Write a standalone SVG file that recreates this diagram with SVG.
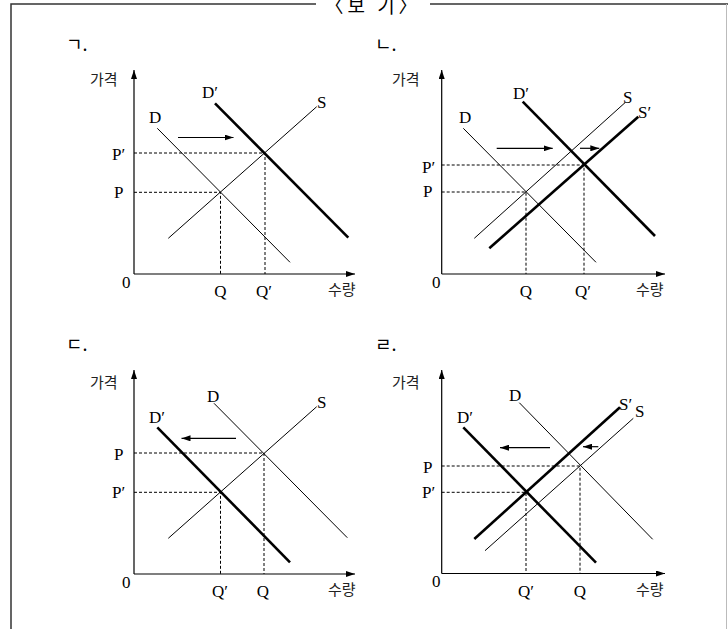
<svg xmlns="http://www.w3.org/2000/svg" width="728" height="629" viewBox="0 0 728 629">
<style>
.bg{fill:#fff}
.frame{fill:none;stroke:#333;stroke-width:1.5}
.ax{fill:none;stroke:#000;stroke-width:1.2}
.thin{fill:none;stroke:#000;stroke-width:1}
.thick{fill:none;stroke:#000;stroke-width:2.6}
.dash{fill:none;stroke:#000;stroke-width:1;stroke-dasharray:3,2}
.sh{fill:none;stroke:#000;stroke-width:1.2}
.l{font-family:"Liberation Serif","Times New Roman",serif;font-size:17px;fill:#000}
.k{font-family:"Noto Sans CJK KR","Noto Sans",sans-serif;font-size:15px;fill:#222}
.h{font-family:"Noto Sans CJK KR","Noto Sans",sans-serif;font-size:18px;fill:#000}
.m{text-anchor:middle}
</style>
<defs>
<marker id="ah" viewBox="0 0 9 6" refX="9" refY="3" markerWidth="9" markerHeight="6" markerUnits="userSpaceOnUse" orient="auto">
<path d="M0,0 L9,3 L0,6 z" fill="#000"/>
</marker>
</defs>
<rect class="bg" x="0" y="0" width="728" height="629"/>
<g id="frame">
<path class="frame" d="M11,629 V4 H316 M430,4 H728"/>
<line x1="726.5" y1="4" x2="726.5" y2="629" stroke="#bbb" stroke-width="1"/>
<text class="h m" x="373" y="13" style="font-size:19px;letter-spacing:4px">〈보 기〉</text>
</g>

<g id="panel-a">
<text class="h" x="66" y="51">ㄱ.</text>
<g id="axes-a">
<line class="ax" x1="134" y1="274" x2="134" y2="70" marker-end="url(#ah)"/>
<line class="ax" x1="134" y1="274" x2="355" y2="274" marker-end="url(#ah)"/>
<text class="k" x="90" y="85">가격</text>
<text class="k" x="328" y="295">수량</text>
<text class="l" x="122" y="288">0</text>
</g>
<g id="connectors-a">
<line class="thin" x1="157.3" y1="128.3" x2="290" y2="262.3"/>
<line class="thick" x1="215" y1="103.3" x2="348.3" y2="237.7"/>
<line class="thin" x1="168.3" y1="238.3" x2="316.7" y2="106.7"/>
<path class="dash" d="M134,153 H265 V274 M134,192.3 H220.5 V274"/>
<line class="sh" x1="178" y1="137.5" x2="233.5" y2="137.5" marker-end="url(#ah)"/>
</g>
<g id="labels-a">
<text class="l" x="202" y="98">D′</text>
<text class="l" x="149" y="123">D</text>
<text class="l" x="317" y="108">S</text>
<text class="l" x="112" y="160">P′</text>
<text class="l" x="114" y="198">P</text>
<text class="l m" x="220.5" y="297">Q</text>
<text class="l" x="256" y="297">Q′</text>
</g>
</g>

<g id="panel-b">
<text class="h" x="375" y="51">ㄴ.</text>
<g id="axes-b">
<line class="ax" x1="441.7" y1="274" x2="441.7" y2="70" marker-end="url(#ah)"/>
<line class="ax" x1="441.7" y1="274" x2="665" y2="274" marker-end="url(#ah)"/>
<text class="k" x="392" y="85">가격</text>
<text class="k" x="636" y="295">수량</text>
<text class="l" x="432" y="288">0</text>
</g>
<g id="connectors-b">
<line class="thin" x1="463.3" y1="128.3" x2="596" y2="262.3"/>
<line class="thick" x1="522.7" y1="101.7" x2="655" y2="236"/>
<line class="thin" x1="474.3" y1="238.3" x2="625" y2="102.7"/>
<line class="thick" x1="489.3" y1="248.3" x2="638.3" y2="116.7"/>
<path class="dash" d="M441.7,165 H584 V274 M441.7,192 H526 V274"/>
<line class="sh" x1="496.7" y1="148.3" x2="552.7" y2="148.3" marker-end="url(#ah)"/>
<line class="sh" x1="580" y1="148.3" x2="599.3" y2="148.3" marker-end="url(#ah)"/>
</g>
<g id="labels-b">
<text class="l" x="513" y="99">D′</text>
<text class="l" x="459" y="123">D</text>
<text class="l" x="623" y="103">S</text>
<text class="l" x="638" y="118">S′</text>
<text class="l" x="422" y="173">P′</text>
<text class="l" x="423" y="197">P</text>
<text class="l m" x="526" y="297">Q</text>
<text class="l" x="575" y="297">Q′</text>
</g>
</g>

<g id="panel-c">
<text class="h" x="66" y="351">ㄷ.</text>
<g id="axes-c">
<line class="ax" x1="134" y1="574" x2="134" y2="370" marker-end="url(#ah)"/>
<line class="ax" x1="134" y1="574" x2="355" y2="574" marker-end="url(#ah)"/>
<text class="k" x="90" y="388">가격</text>
<text class="k" x="328" y="595">수량</text>
<text class="l" x="122" y="588">0</text>
</g>
<g id="connectors-c">
<line class="thin" x1="214" y1="403.3" x2="347.3" y2="537.7"/>
<line class="thick" x1="157.3" y1="427.3" x2="290" y2="562.3"/>
<line class="thin" x1="168.3" y1="538.3" x2="316.7" y2="406.7"/>
<path class="dash" d="M134,453 H264 V574 M134,492.3 H220.5 V574"/>
<line class="sh" x1="236" y1="438.3" x2="181.5" y2="438.3" marker-end="url(#ah)"/>
</g>
<g id="labels-c">
<text class="l" x="207" y="402">D</text>
<text class="l" x="317" y="408">S</text>
<text class="l" x="149" y="423">D′</text>
<text class="l" x="114" y="460">P</text>
<text class="l" x="112" y="498">P′</text>
<text class="l" x="212" y="597">Q′</text>
<text class="l m" x="263" y="597">Q</text>
</g>
</g>

<g id="panel-d">
<text class="h" x="375" y="351">ㄹ.</text>
<g id="axes-d">
<line class="ax" x1="441.7" y1="573.5" x2="441.7" y2="370" marker-end="url(#ah)"/>
<line class="ax" x1="441.7" y1="573.5" x2="665" y2="573.5" marker-end="url(#ah)"/>
<text class="k" x="392" y="388">가격</text>
<text class="k" x="636" y="595">수량</text>
<text class="l" x="432" y="587">0</text>
</g>
<g id="connectors-d">
<line class="thin" x1="519.3" y1="402.7" x2="652.7" y2="539.3"/>
<line class="thick" x1="463.3" y1="427.3" x2="596" y2="562.7"/>
<line class="thick" x1="474.3" y1="539" x2="620" y2="407.3"/>
<line class="thin" x1="485" y1="550.7" x2="633.3" y2="418.3"/>
<path class="dash" d="M441.7,466 H580 V573.5 M441.7,492.3 H526 V573.5"/>
<line class="sh" x1="550" y1="447.7" x2="500" y2="447.7" marker-end="url(#ah)"/>
<line class="sh" x1="598.3" y1="446.7" x2="583" y2="446.7" marker-end="url(#ah)"/>
</g>
<g id="labels-d">
<text class="l" x="509" y="401">D</text>
<text class="l" x="457" y="423">D′</text>
<text class="l" x="619" y="410">S′</text>
<text class="l" x="635" y="417">S</text>
<text class="l" x="423" y="473">P</text>
<text class="l" x="422" y="498">P′</text>
<text class="l" x="518" y="597">Q′</text>
<text class="l m" x="580" y="597">Q</text>
</g>
</g>
</svg>
